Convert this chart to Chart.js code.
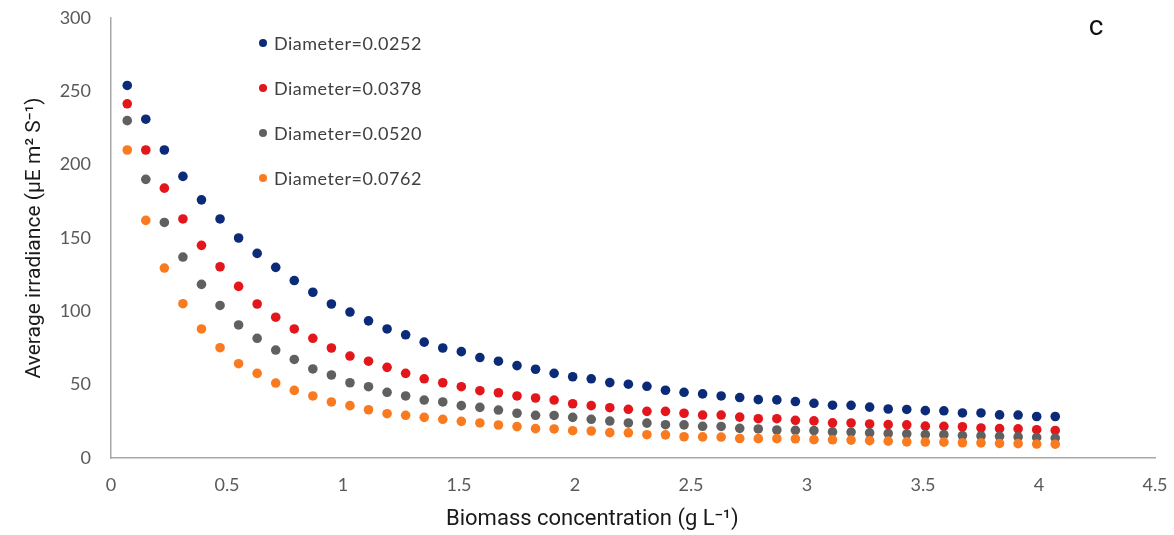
<!DOCTYPE html>
<html>
<head>
<meta charset="utf-8">
<script src="https://cdn.jsdelivr.net/npm/chart.js@4.4.1/dist/chart.umd.min.js"></script>
<style>
  html, body { margin: 0; padding: 0; background: #fff; overflow: hidden; }
  #wrap { width: 1174px; height: 535px; }
</style>
</head>
<body>
<div id="wrap"><canvas id="irradianceChart"></canvas></div>
<script>
// biomass concentration (g/L)
const biomass = [0.07, 0.15, 0.23, 0.31, 0.39, 0.47, 0.55, 0.63, 0.71, 0.79,
  0.87, 0.95, 1.03, 1.11, 1.19, 1.27, 1.35, 1.43, 1.51, 1.59,
  1.67, 1.75, 1.83, 1.91, 1.99, 2.07, 2.15, 2.23, 2.31, 2.39,
  2.47, 2.55, 2.63, 2.71, 2.79, 2.87, 2.95, 3.03, 3.11, 3.19,
  3.27, 3.35, 3.43, 3.51, 3.59, 3.67, 3.75, 3.83, 3.91, 3.99, 4.07];

const seriesLabels = ["Diameter=0.0252", "Diameter=0.0378", "Diameter=0.0520", "Diameter=0.0762"];

const d0252 = [254, 231, 210, 192, 176, 163, 150, 139.5, 130, 121,
  113, 105, 99.5, 93.5, 88, 84, 79, 75, 72.5, 68.5,
  66, 63, 60.5, 57.7, 55.4, 54, 51.4, 50.3, 48.9, 46.2,
  44.8, 43.7, 42.3, 41.2, 39.8, 39.6, 38.5, 37.3, 36, 35.9,
  34.7, 33.4, 33.1, 32.3, 32.2, 30.7, 30.7, 29.4, 29.3, 28.3, 28.3];

const d0378 = [241.5, 210, 184, 163, 145, 130.4, 117, 105, 96, 88,
  81.6, 75, 69.5, 66, 61.8, 57.7, 54, 51.3, 48.6, 45.9,
  44.5, 42.3, 40.9, 39.5, 37, 35.7, 34.3, 33.2, 31.8, 31.8,
  30.5, 29.3, 29.3, 27.9, 26.8, 26.8, 25.7, 25.3, 24, 23.9,
  23.2, 22.8, 22.6, 21.7, 21.6, 21.3, 20.5, 20, 19.9, 19.3, 18.8];

const d0520 = [230, 190, 160.6, 137, 118.4, 104, 90.7, 81.6, 73.6, 67.2,
  60.7, 56.6, 51.3, 48.6, 44.8, 42.3, 39.5, 38.2, 35.7, 34.5,
  32.7, 30.5, 29.1, 29, 27.7, 26.4, 25.2, 23.9, 23.8, 22.7,
  22.6, 21.6, 21.5, 20.2, 19.8, 19.1, 18.9, 18.7, 17.8, 17.7,
  17.1, 16.7, 16.5, 16, 15.9, 15.3, 15, 14.8, 14.4, 14, 13.6];

const d0762 = [210, 162, 129.5, 105.2, 88, 75.2, 64.3, 57.7, 51.1, 46.1,
  42.3, 38.2, 35.7, 32.9, 30.2, 29.1, 27.7, 26.4, 25, 23.9,
  22.5, 21.4, 20, 19.8, 18.6, 18.4, 17.3, 17.2, 15.9, 15.8,
  14.5, 14.4, 14.3, 13.3, 13.2, 13.2, 13.1, 12.5, 12.4, 12.2,
  11.8, 11.5, 11, 10.9, 10.8, 10.4, 10.3, 9.9, 9.8, 9.5, 9.4];

const colors = ["#0b2a78", "#e3161c", "#606060", "#fa7b1f"];

const titleFont = "Roboto, 'Liberation Sans', sans-serif";
const xTitle = "Biomass concentration (g L⁻¹)";

const toPoints = (ys) => biomass.map((x, i) => ({ x: x, y: ys[i] }));

// legend inside the plot, the panel letter and the x title (sits left of centre in the original)
const annotations = {
  id: "annotations",
  afterDraw(chart) {
    const { ctx, chartArea } = chart;
    ctx.save();
    ctx.font = "18px Lato, sans-serif";
    ctx.letterSpacing = "0.5px";
    ctx.textBaseline = "middle";
    chart.data.datasets.forEach((ds, i) => {
      const y = chartArea.top + 25 + i * 45;
      const x = chartArea.left + 152;
      ctx.beginPath();
      ctx.fillStyle = ds.backgroundColor;
      ctx.arc(x, y, 4, 0, Math.PI * 2);
      ctx.fill();
      ctx.fillStyle = "#404040";
      ctx.fillText(ds.label, x + 11, y + 1);
    });
    ctx.letterSpacing = "0px";
    ctx.textAlign = "center";
    ctx.font = "28px " + titleFont;
    ctx.fillStyle = "#111";
    ctx.fillText("c", chartArea.right - 59, 28);
    ctx.font = "22px " + titleFont;
    ctx.fillStyle = "#1a1a1a";
    ctx.fillText(xTitle, chartArea.left + chartArea.width * 0.461, chart.height - 16);
    ctx.restore();
  },
};

// keep the plot area where the reference has it
const noLabelPad = (s) => {
  s.paddingTop = 0;
  s.paddingBottom = 0;
  s.paddingLeft = 0;
  s.paddingRight = 0;
};

new Chart(document.getElementById("irradianceChart"), {
  type: "scatter",
  data: {
    datasets: [d0252, d0378, d0520, d0762].map((ys, i) => ({
      label: seriesLabels[i],
      data: toPoints(ys),
      backgroundColor: colors[i],
      borderColor: colors[i],
      pointRadius: 4.8,
      pointBorderWidth: 0,
      order: 3 - i,
    })),
  },
  options: {
    responsive: true,
    maintainAspectRatio: false,
    animation: false,
    layout: { padding: { top: 18, right: 19, left: 0, bottom: 0 } },
    plugins: {
      legend: { display: false },
      tooltip: { enabled: false },
    },
    scales: {
      x: {
        type: "linear",
        min: 0,
        max: 4.5,
        afterFit: (s) => { s.height = 77; noLabelPad(s); },
        grid: { display: false, drawTicks: false },
        border: { display: true, color: "#a8a8a8", width: 1.5 },
        ticks: {
          stepSize: 0.5,
          padding: 16,
          color: "#595959",
          font: { family: "Lato, sans-serif", size: 18 },
          callback: (v) => String(v),
        },
      },
      y: {
        min: 0,
        max: 300,
        afterFit: (s) => { s.width = 111; noLabelPad(s); },
        grid: { display: false, drawTicks: false },
        border: { display: true, color: "#a8a8a8", width: 1.5 },
        ticks: {
          stepSize: 50,
          padding: 20,
          color: "#595959",
          font: { family: "Lato, sans-serif", size: 18 },
        },
        title: {
          display: true,
          text: "Average irradiance (µE m² S⁻¹)",
          color: "#1a1a1a",
          font: { family: titleFont, size: 21 },
          padding: { top: 22, bottom: 0 },
        },
      },
    },
  },
  plugins: [annotations],
});
</script>
</body>
</html>
